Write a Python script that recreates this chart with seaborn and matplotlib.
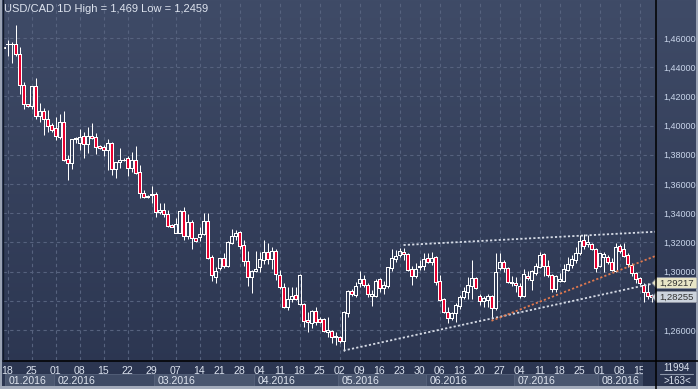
import numpy as np
import pandas as pd
import matplotlib
matplotlib.use("Agg")
import matplotlib.pyplot as plt
import matplotlib.colors as mcolors
from matplotlib.patches import Rectangle, Polygon
import seaborn as sns

# ---------------- data ----------------
symbol = "USD/CAD"
timeframe = "1D"

opens = [1.4532, 1.4557, 1.4561, 1.4557, 1.4488, 1.4278, 1.4146, 1.4134, 1.4271, 1.4068,
         1.4100, 1.4045, 1.4002, 1.3981, 1.3920, 1.4025, 1.3769, 1.3742, 1.3906, 1.3883,
         1.3929, 1.3872, 1.3929, 1.3920, 1.3860, 1.3854, 1.3833, 1.3879, 1.3700, 1.3748,
         1.3762, 1.3776, 1.3707, 1.3764, 1.3680, 1.3536, 1.3509, 1.3525, 1.3529, 1.3406,
         1.3420, 1.3392, 1.3319, 1.3267, 1.3267, 1.3415, 1.3246, 1.3337, 1.3228, 1.3239,
         1.3258, 1.3349, 1.3098, 1.2965, 1.3027, 1.3096, 1.3038, 1.3198, 1.3244, 1.3274,
         1.3182, 1.3075, 1.2961, 1.3007, 1.3029, 1.3080, 1.3132, 1.3084, 1.3141, 1.2974,
         1.2892, 1.2760, 1.2810, 1.2840, 1.2776, 1.2776, 1.2669, 1.2650, 1.2730, 1.2673,
         1.2675, 1.2589, 1.2593, 1.2554, 1.2550, 1.2527, 1.2719, 1.2867, 1.2840, 1.2920,
         1.2952, 1.2908, 1.2835, 1.2833, 1.2947, 1.2890, 1.2904, 1.3027, 1.3089, 1.3114,
         1.3137, 1.3118, 1.3016, 1.2972, 1.3034, 1.3041, 1.3091, 1.3068, 1.3098, 1.2936,
         1.2810, 1.2726, 1.2684, 1.2714, 1.2767, 1.2824, 1.2863, 1.2904, 1.2958, 1.2833,
         1.2801, 1.2805, 1.2835, 1.2748, 1.3027, 1.3064, 1.3022, 1.2927, 1.2920, 1.2904,
         1.2835, 1.2972, 1.2942, 1.2988, 1.3034, 1.3118, 1.3038, 1.2977, 1.2881, 1.2938,
         1.2938, 1.3011, 1.3045, 1.3079, 1.3125, 1.3216, 1.3187, 1.3187, 1.3153, 1.3041,
         1.3102, 1.3102, 1.3068, 1.3006, 1.3178, 1.3153, 1.3114, 1.3045, 1.2988, 1.2954,
         1.2908, 1.2858, 1.2840]
highs = [1.4538, 1.4586, 1.4570, 1.4690, 1.4536, 1.4296, 1.4148, 1.4273, 1.4324, 1.4153,
         1.4118, 1.4107, 1.4016, 1.4057, 1.4080, 1.4100, 1.3799, 1.3910, 1.3920, 1.3977,
         1.3958, 1.3993, 1.4020, 1.3947, 1.3865, 1.3867, 1.3908, 1.3885, 1.3750, 1.3844,
         1.3778, 1.3792, 1.3819, 1.3860, 1.3730, 1.3559, 1.3525, 1.3586, 1.3543, 1.3472,
         1.3468, 1.3422, 1.3324, 1.3365, 1.3422, 1.3445, 1.3395, 1.3353, 1.3232, 1.3303,
         1.3399, 1.3399, 1.3114, 1.3034, 1.3096, 1.3130, 1.3212, 1.3292, 1.3285, 1.3280,
         1.3216, 1.3143, 1.3011, 1.3141, 1.3137, 1.3216, 1.3194, 1.3166, 1.3155, 1.3011,
         1.2920, 1.2892, 1.2897, 1.2897, 1.2981, 1.2787, 1.2721, 1.2737, 1.2760, 1.2691,
         1.2680, 1.2691, 1.2600, 1.2584, 1.2561, 1.2732, 1.2874, 1.2878, 1.2931, 1.3006,
         1.2977, 1.2920, 1.2874, 1.2952, 1.2954, 1.2937, 1.3034, 1.3153, 1.3148, 1.3164,
         1.3159, 1.3125, 1.3038, 1.3061, 1.3079, 1.3125, 1.3125, 1.3137, 1.3107, 1.2977,
         1.2817, 1.2755, 1.2726, 1.2787, 1.2840, 1.2897, 1.2965, 1.3079, 1.2965, 1.2844,
         1.2833, 1.2844, 1.2840, 1.3125, 1.3125, 1.3079, 1.3034, 1.2970, 1.2965, 1.2920,
         1.3016, 1.3006, 1.3011, 1.3057, 1.3132, 1.3130, 1.3079, 1.2984, 1.2977, 1.2988,
         1.3052, 1.3098, 1.3114, 1.3171, 1.3251, 1.3255, 1.3251, 1.3194, 1.3159, 1.3130,
         1.3132, 1.3114, 1.3091, 1.3194, 1.3187, 1.3194, 1.3125, 1.3061, 1.2999, 1.2965,
         1.2924, 1.2920, 1.2844]
lows = [1.4529, 1.4479, 1.4427, 1.4477, 1.4217, 1.4111, 1.4130, 1.4111, 1.4043, 1.4022,
        1.3936, 1.3958, 1.3958, 1.3901, 1.3908, 1.3758, 1.3627, 1.3703, 1.3883, 1.3833,
        1.3780, 1.3815, 1.3906, 1.3806, 1.3842, 1.3792, 1.3696, 1.3662, 1.3643, 1.3712,
        1.3760, 1.3657, 1.3685, 1.3671, 1.3506, 1.3502, 1.3504, 1.3472, 1.3376, 1.3395,
        1.3376, 1.3308, 1.3305, 1.3262, 1.3262, 1.3216, 1.3223, 1.3155, 1.3205, 1.3209,
        1.3251, 1.3086, 1.2936, 1.2920, 1.3011, 1.3022, 1.3029, 1.3189, 1.3216, 1.3155,
        1.3038, 1.2901, 1.2851, 1.3000, 1.3000, 1.3052, 1.3052, 1.3015, 1.2943, 1.2879,
        1.2748, 1.2737, 1.2794, 1.2805, 1.2771, 1.2623, 1.2589, 1.2611, 1.2634, 1.2646,
        1.2589, 1.2554, 1.2509, 1.2497, 1.2509, 1.2459, 1.2691, 1.2833, 1.2828, 1.2897,
        1.2897, 1.2824, 1.2764, 1.2828, 1.2863, 1.2847, 1.2885, 1.3004, 1.3068, 1.3098,
        1.3079, 1.3006, 1.2908, 1.2958, 1.3011, 1.3011, 1.3057, 1.3045, 1.2908, 1.2799,
        1.2719, 1.2646, 1.2668, 1.2657, 1.2744, 1.2810, 1.2810, 1.2812, 1.2881, 1.2771,
        1.2755, 1.2755, 1.2675, 1.2737, 1.3011, 1.2999, 1.2920, 1.2904, 1.2863, 1.2821,
        1.2828, 1.2942, 1.2874, 1.2977, 1.3022, 1.2970, 1.2965, 1.2863, 1.2863, 1.2931,
        1.2931, 1.3004, 1.3022, 1.3057, 1.3114, 1.3155, 1.3166, 1.3148, 1.2999, 1.3034,
        1.2999, 1.3050, 1.3004, 1.2999, 1.3125, 1.3102, 1.3034, 1.2970, 1.2920, 1.2908,
        1.2794, 1.2810, 1.2794]
closes = [1.4535, 1.4561, 1.4558, 1.4488, 1.4278, 1.4146, 1.4132, 1.4271, 1.4068, 1.4100,
          1.4043, 1.3997, 1.3972, 1.3929, 1.4025, 1.3764, 1.3742, 1.3908, 1.3913, 1.3924,
          1.3872, 1.3929, 1.3913, 1.3856, 1.3844, 1.3833, 1.3879, 1.3700, 1.3748, 1.3762,
          1.3764, 1.3707, 1.3764, 1.3678, 1.3536, 1.3509, 1.3520, 1.3529, 1.3406, 1.3420,
          1.3392, 1.3315, 1.3308, 1.3324, 1.3415, 1.3246, 1.3337, 1.3228, 1.3209, 1.3255,
          1.3349, 1.3091, 1.2977, 1.3004, 1.3096, 1.3041, 1.3205, 1.3244, 1.3262, 1.3175,
          1.3073, 1.2961, 1.3004, 1.3015, 1.3084, 1.3132, 1.3084, 1.3141, 1.2981, 1.2892,
          1.2755, 1.2810, 1.2835, 1.2812, 1.2977, 1.2664, 1.2652, 1.2730, 1.2657, 1.2657,
          1.2593, 1.2598, 1.2550, 1.2557, 1.2525, 1.2726, 1.2867, 1.2847, 1.2904, 1.2952,
          1.2906, 1.2844, 1.2849, 1.2936, 1.2890, 1.2908, 1.3029, 1.3091, 1.3107, 1.3141,
          1.3118, 1.3011, 1.2972, 1.3018, 1.3041, 1.3084, 1.3068, 1.3091, 1.2931, 1.2805,
          1.2726, 1.2684, 1.2714, 1.2771, 1.2828, 1.2867, 1.2908, 1.2958, 1.2885, 1.2799,
          1.2817, 1.2835, 1.2748, 1.2999, 1.3064, 1.3027, 1.2927, 1.2920, 1.2908, 1.2835,
          1.2984, 1.2954, 1.3004, 1.3038, 1.3114, 1.3041, 1.2977, 1.2879, 1.2970, 1.2947,
          1.3018, 1.3052, 1.3086, 1.3130, 1.3210, 1.3178, 1.3205, 1.3153, 1.3022, 1.3125,
          1.3120, 1.3064, 1.3011, 1.3171, 1.3143, 1.3109, 1.3050, 1.2988, 1.2947, 1.2920,
          1.2858, 1.2835, 1.28255]

# trend lines (bar index, price)
upper_x = [100, 163]
upper_y = [1.3182, 1.3273]
lower_x = [85, 163]
lower_y = [1.2459, 1.29217]
mid_x = [122, 163]
mid_y = [1.2663, 1.3107]

y_ticks = [1.26, 1.28, 1.30, 1.32, 1.34, 1.36, 1.38, 1.40, 1.42, 1.44, 1.46]
history_bars = "11994"

# bar dates: Sunday sessions before the DST switch, Mon-Fri afterwards
d1 = pd.date_range("2016-01-17", "2016-03-13", freq="D")
d1 = d1[d1.weekday != 5]
d2 = pd.bdate_range("2016-03-14", "2016-08-18")
dates = d1.append(d2)

# ---------------- styling ----------------
sns.set_style("dark")
plt.rcParams["font.family"] = ["Liberation Sans", "DejaVu Sans"]

W, H = 698, 389
fig = plt.figure(figsize=(W / 100, H / 100), dpi=100)

# background gradient
c_top = np.array(mcolors.to_rgb("#3f4b67"))
c_bot = np.array(mcolors.to_rgb("#2b3550"))
bg = fig.add_axes([0, 0, 1, 1], zorder=-10)
t = np.linspace(0, 1, 256)[:, None, None]
img = c_top * (1 - t) + c_bot * t
bg.imshow(img, aspect="auto", extent=[0, 1, 0, 1])
bg.axis("off")

df = pd.DataFrame({"o": opens, "h": highs, "l": lows, "c": closes})
n = len(df)
idx = np.arange(n)

ax = fig.add_axes([3 / W, 29 / H, 652 / W, 360 / H], zorder=1)
ax.patch.set_alpha(0)
ax.set_xlim(-0.125, -0.125 + 652 / 4)
ylo, yhi = 1.46 - 322 / 1460, 1.46 + 38 / 1460
ax.set_ylim(ylo, yhi)
for s in ax.spines.values():
    s.set_visible(False)

# grid / ticks
mondays = [i for i, d in enumerate(dates) if d.weekday() == 0]
ax.set_xticks(mondays)
ax.set_xticklabels([dates[i].strftime("%d") for i in mondays])
ax.set_yticks(y_ticks)
# the 1,28000 label sits under the price tags in the reference
ax.set_yticklabels(["" if abs(v - 1.28) < 1e-9 else f"{v:.5f}".replace(".", ",")
                    for v in y_ticks])
ax.yaxis.tick_right()
ax.grid(True, color="#56627e", linestyle=(0, (3, 3)), linewidth=0.8)
ax.set_axisbelow(True)
ax.tick_params(axis="y", length=0, pad=6, labelsize=6.5, labelcolor="#c9d5ea")
ax.tick_params(axis="x", length=0, pad=4.0, labelsize=7.6, labelcolor="#dce3ef")

# candles
o = df["o"].values; c = df["c"].values; h = df["h"].values; l = df["l"].values
top = np.maximum(o, c); bot = np.minimum(o, c)
up = c >= o
face = ["none" if up[i] else "#e8002f" for i in range(n)]

# wicks only outside the body so they never cover the body fill
ax.vlines(idx, top, h, colors="white", linewidth=0.72, zorder=3)
ax.vlines(idx, l, bot, colors="white", linewidth=0.72, zorder=3)
ax.bar(idx, top - bot, bottom=bot, width=0.6, color=face,
       edgecolor="white", linewidth=0.72, antialiased=False, zorder=4)

# trend lines
sns.lineplot(x=upper_x, y=upper_y, ax=ax, color="#d6dbe6", lw=1.3,
             linestyle=(0, (1.2, 1.2)), zorder=6)
sns.lineplot(x=lower_x, y=lower_y, ax=ax, color="#d6dbe6", lw=1.3,
             linestyle=(0, (1.2, 1.2)), zorder=6)
sns.lineplot(x=mid_x, y=mid_y, ax=ax, color="#e0784e", lw=1.3,
             linestyle=(0, (1.2, 1.2)), zorder=6)

# ---------------- overlay (pixel space) ----------------
ov = fig.add_axes([0, 0, 1, 1], zorder=5)
ov.set_xlim(0, W)
ov.set_ylim(H, 0)
ov.axis("off")
ov.patch.set_alpha(0)


def to_px(i, p):
    dx, dy = ax.transData.transform((i, p))
    return dx, H - dy


# month strip
month_first = [i for i in range(n) if i == 0 or dates[i].month != dates[i - 1].month]
bounds = month_first + [n]
for k, st in enumerate(month_first):
    x0 = to_px(st - 0.5, 1.3)[0]
    x1 = to_px(min(bounds[k + 1], n - 2) - 0.5, 1.3)[0]
    x0 = max(x0, 5)
    fc = "#4a566f" if dates[st].month % 2 == 1 else "#3e4a64"
    ov.add_patch(Rectangle((x0, 374), x1 - x0, 12, facecolor=fc, edgecolor="#56627b", lw=0.6))
    ov.text(x0 + 4, 380.5, dates[st].strftime("%m.%Y"), fontsize=7.6, color="#dfe5f0",
            ha="left", va="center")
ov.add_patch(Rectangle((643, 361), 12, 25, facecolor="#26304a", edgecolor="none"))

# axes frame lines
ov.plot([655.5, 655.5], [0, H], color="black", lw=1.1)
ov.plot([3, W], [360.5, 360.5], color="black", lw=1.1)
ov.add_patch(Rectangle((0, 0), 2, H, facecolor="#9aa3b4", edgecolor="none"))
ov.plot([2.5, 2.5], [0, 360], color="#111a2a", lw=1)
ov.add_patch(Rectangle((0, 386), W, 3, facecolor="#a3abbb", edgecolor="none"))
ov.add_patch(Rectangle((696, 0), 2, H, facecolor="#9aa3b4", edgecolor="none"))

# title
hi = max(highs); lo = min(lows)
title = f"{symbol} {timeframe} High = {hi:g} Low = {lo:g}".replace(".", ",")
ov.text(4, 8.5, title, fontsize=8.0, color="#dde3ee", ha="left", va="center")

# price tags
for price, fc in [(lower_y[-1], "#e8e5c6"), (closes[-1], "#ccd3dd")]:
    _, yy = to_px(n - 1, price)
    poly = Polygon([(652, yy), (657, yy - 5.5), (697, yy - 5.5), (697, yy + 5.5), (657, yy + 5.5)],
                   closed=True, facecolor=fc, edgecolor="#8e93a0", lw=0.6)
    ov.add_patch(poly)
    ov.text(659, yy + 0.3, f"{price:.5f}".replace(".", ","), fontsize=6.8, color="#333333",
            ha="left", va="center")

# bottom-right counters
ov.text(677, 368, history_bars, fontsize=7.0, color="#dce3ef", ha="center", va="center")
ov.plot([660, 693], [373.5, 373.5], color="#8d97aa", lw=0.8)
ov.text(677, 380.5, f">{n}<", fontsize=7.0, color="#dce3ef", ha="center", va="center")

fig.savefig("out.png", dpi=100)
